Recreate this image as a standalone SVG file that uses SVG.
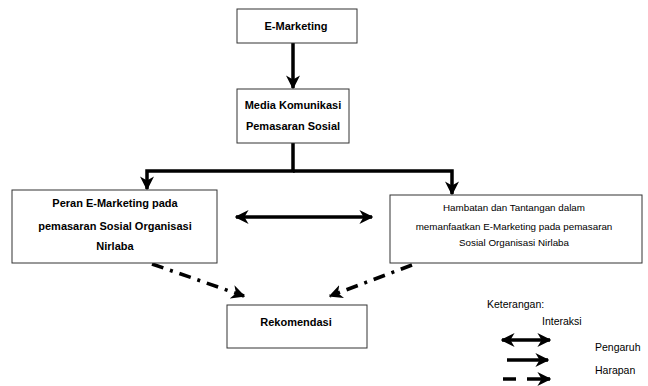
<svg xmlns="http://www.w3.org/2000/svg" width="648" height="386" viewBox="0 0 648 386">
<style>
.box{fill:#fff;stroke:#333;stroke-width:1}
.tb{font-family:"Liberation Sans",Arial,sans-serif;font-weight:bold;font-size:11px;fill:#000;text-anchor:middle}
.tn{font-family:"Liberation Sans",Arial,sans-serif;font-size:9.8px;fill:#000;text-anchor:middle}
.tl{font-family:"Liberation Sans",Arial,sans-serif;font-size:10.5px;fill:#000}
.solid{stroke:#000;stroke-width:3.5;fill:none}
.dd{stroke:#000;stroke-width:3.5;fill:none;stroke-dasharray:12 7 3 7}
</style>
<defs>
<marker id="ah" viewBox="0 0 10 10" refX="9" refY="5" markerWidth="4" markerHeight="4" orient="auto-start-reverse" markerUnits="strokeWidth">
<path d="M0,0 L10,5 L0,10 L3,5 Z" fill="#000"/>
</marker>
</defs>
<g id="connectors">
<line class="solid" x1="293" y1="43" x2="293" y2="88" marker-end="url(#ah)"/>
<polyline class="solid" points="293,143 293,171 147,171 147,189" marker-end="url(#ah)"/>
<polyline class="solid" points="293,171 452,171 452,194" marker-end="url(#ah)"/>
<line class="solid" x1="236" y1="217" x2="372" y2="217" marker-start="url(#ah)" marker-end="url(#ah)"/>
<line class="dd" x1="152" y1="264" x2="244" y2="296" marker-end="url(#ah)"/>
<line class="dd" x1="412" y1="265" x2="330" y2="296" marker-end="url(#ah)"/>
</g>
<g id="n1"><rect class="box" x="237" y="9" width="120" height="34"/><text class="tb" x="296" y="30">E-Marketing</text></g>
<g id="n2"><rect class="box" x="237" y="89" width="112" height="54"/><text class="tb" x="293" y="109">Media Komunikasi</text><text class="tb" x="293" y="130">Pemasaran Sosial</text></g>
<g id="n3"><rect class="box" x="12" y="190" width="205" height="73"/><text class="tb" x="115" y="207">Peran E-Marketing pada</text><text class="tb" x="115" y="230">pemasaran Sosial Organisasi</text><text class="tb" x="115" y="250">Nirlaba</text></g>
<g id="n4"><rect class="box" x="390" y="195" width="252" height="68"/><text class="tn" x="514" y="211">Hambatan dan Tantangan dalam</text><text class="tn" x="514" y="230">memanfaatkan E-Marketing pada pemasaran</text><text class="tn" x="514" y="246">Sosial Organisasi Nirlaba</text></g>
<g id="n5"><rect class="box" x="227" y="305" width="140" height="43"/><text class="tb" x="296" y="326">Rekomendasi</text></g>
<g id="legend">
<text class="tl" x="487" y="308">Keterangan:</text>
<text class="tl" x="542" y="325">Interaksi</text>
<line class="solid" x1="502" y1="340" x2="550" y2="340" marker-start="url(#ah)" marker-end="url(#ah)"/>
<text class="tl" x="595" y="351">Pengaruh</text>
<line class="solid" x1="507" y1="360" x2="548" y2="360" marker-end="url(#ah)"/>
<text class="tl" x="595" y="374">Harapan</text>
<line class="solid" x1="503" y1="379" x2="516" y2="379"/>
<line class="solid" x1="527" y1="379" x2="550" y2="379" marker-end="url(#ah)"/>
</g>
</svg>
